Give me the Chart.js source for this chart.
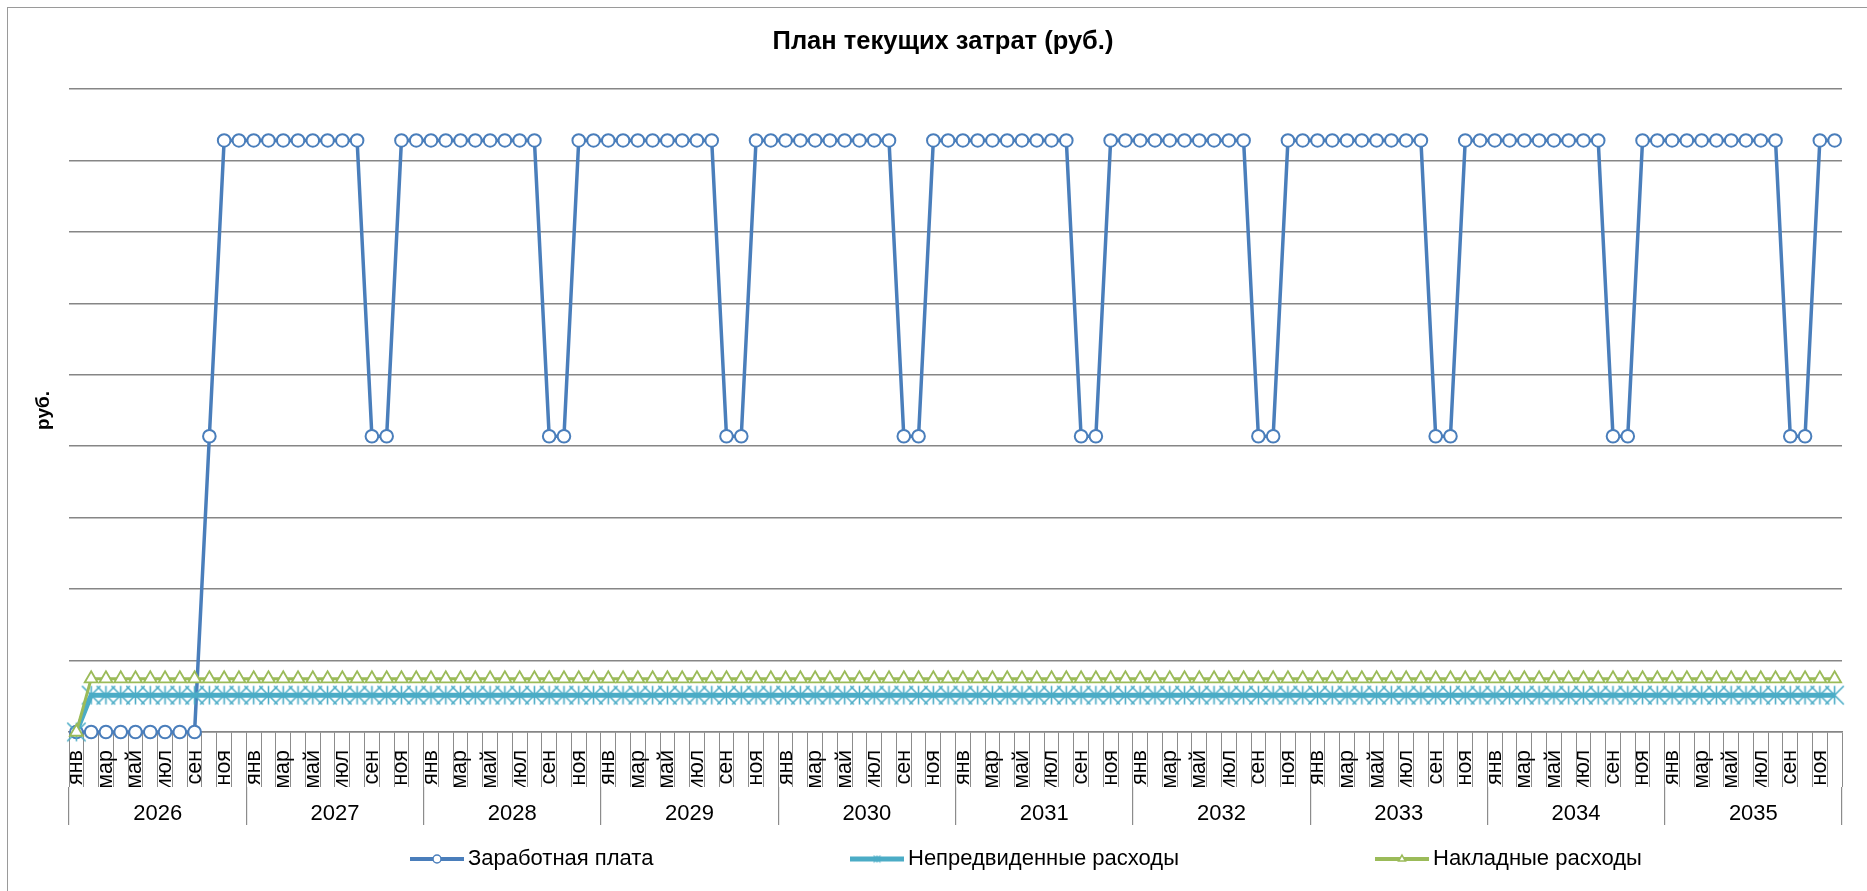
<!DOCTYPE html>
<html>
<head>
<meta charset="utf-8">
<title>План текущих затрат</title>
<script src="https://cdn.jsdelivr.net/npm/chart.js@4.4.1/dist/chart.umd.min.js"></script>
<style>
    html, body { margin: 0; padding: 0; background: #fff; overflow: hidden; }
    #wrap { width: 1867px; height: 891px; position: relative; }
</style>
</head>
<body>
<div id="wrap"><canvas id="plan-chart"></canvas></div>
<script>
var years = ['2026', '2027', '2028', '2029', '2030', '2031', '2032', '2033', '2034', '2035'];
var months = ['янв', 'фев', 'мар', 'апр', 'май', 'июн', 'июл', 'авг', 'сен', 'окт', 'ноя', 'дек'];

// Заработная плата по годам (руб.)
var zp2026 = [0, 0, 0, 0, 0, 0, 0, 0, 0, 207000, 414000, 414000];
var zp2027 = [414000, 414000, 414000, 414000, 414000, 414000, 414000, 414000, 207000, 207000, 414000, 414000];
var zp2028 = [414000, 414000, 414000, 414000, 414000, 414000, 414000, 414000, 207000, 207000, 414000, 414000];
var zp2029 = [414000, 414000, 414000, 414000, 414000, 414000, 414000, 414000, 207000, 207000, 414000, 414000];
var zp2030 = [414000, 414000, 414000, 414000, 414000, 414000, 414000, 414000, 207000, 207000, 414000, 414000];
var zp2031 = [414000, 414000, 414000, 414000, 414000, 414000, 414000, 414000, 207000, 207000, 414000, 414000];
var zp2032 = [414000, 414000, 414000, 414000, 414000, 414000, 414000, 414000, 207000, 207000, 414000, 414000];
var zp2033 = [414000, 414000, 414000, 414000, 414000, 414000, 414000, 414000, 207000, 207000, 414000, 414000];
var zp2034 = [414000, 414000, 414000, 414000, 414000, 414000, 414000, 414000, 207000, 207000, 414000, 414000];
var zp2035 = [414000, 414000, 414000, 414000, 414000, 414000, 414000, 414000, 207000, 207000, 414000, 414000];

// Непредвиденные расходы (руб.)
var nepredvid = [
    0, 25800, 25800, 25800, 25800, 25800, 25800, 25800, 25800, 25800, 25800, 25800,
    25800, 25800, 25800, 25800, 25800, 25800, 25800, 25800, 25800, 25800, 25800, 25800,
    25800, 25800, 25800, 25800, 25800, 25800, 25800, 25800, 25800, 25800, 25800, 25800,
    25800, 25800, 25800, 25800, 25800, 25800, 25800, 25800, 25800, 25800, 25800, 25800,
    25800, 25800, 25800, 25800, 25800, 25800, 25800, 25800, 25800, 25800, 25800, 25800,
    25800, 25800, 25800, 25800, 25800, 25800, 25800, 25800, 25800, 25800, 25800, 25800,
    25800, 25800, 25800, 25800, 25800, 25800, 25800, 25800, 25800, 25800, 25800, 25800,
    25800, 25800, 25800, 25800, 25800, 25800, 25800, 25800, 25800, 25800, 25800, 25800,
    25800, 25800, 25800, 25800, 25800, 25800, 25800, 25800, 25800, 25800, 25800, 25800,
    25800, 25800, 25800, 25800, 25800, 25800, 25800, 25800, 25800, 25800, 25800, 25800
];

// Накладные расходы (руб.)
var nakladnye = [
    0, 37300, 37300, 37300, 37300, 37300, 37300, 37300, 37300, 37300, 37300, 37300,
    37300, 37300, 37300, 37300, 37300, 37300, 37300, 37300, 37300, 37300, 37300, 37300,
    37300, 37300, 37300, 37300, 37300, 37300, 37300, 37300, 37300, 37300, 37300, 37300,
    37300, 37300, 37300, 37300, 37300, 37300, 37300, 37300, 37300, 37300, 37300, 37300,
    37300, 37300, 37300, 37300, 37300, 37300, 37300, 37300, 37300, 37300, 37300, 37300,
    37300, 37300, 37300, 37300, 37300, 37300, 37300, 37300, 37300, 37300, 37300, 37300,
    37300, 37300, 37300, 37300, 37300, 37300, 37300, 37300, 37300, 37300, 37300, 37300,
    37300, 37300, 37300, 37300, 37300, 37300, 37300, 37300, 37300, 37300, 37300, 37300,
    37300, 37300, 37300, 37300, 37300, 37300, 37300, 37300, 37300, 37300, 37300, 37300,
    37300, 37300, 37300, 37300, 37300, 37300, 37300, 37300, 37300, 37300, 37300, 37300
];

var yMax = 450000;
var yStep = 50000;

var zarplata = [].concat(zp2026, zp2027, zp2028, zp2029, zp2030, zp2031, zp2032, zp2033, zp2034, zp2035);
var categories = [];
years.forEach(function (y) {
    months.forEach(function (m) { categories.push(m + ' ' + y); });
});

var FONT = "'Liberation Sans', Arial, sans-serif";
Chart.defaults.font.family = FONT;
Chart.defaults.color = '#000';

// маркер "звезда" как в Excel: крест + вертикальная черта
function makeStar(size, color, lw) {
    var c = document.createElement('canvas');
    c.width = size;
    c.height = size;
    var g = c.getContext('2d');
    var p = lw / 2 + 0.5;
    g.strokeStyle = color;
    g.lineWidth = lw;
    g.beginPath();
    g.moveTo(p, p); g.lineTo(size - p, size - p);
    g.moveTo(size - p, p); g.lineTo(p, size - p);
    g.moveTo(size / 2, p); g.lineTo(size / 2, size - p);
    g.stroke();
    return c;
}
var starBig = makeStar(21, '#4bacc6', 1.6);
var starSmall = makeStar(9, '#4bacc6', 1.2);

// фон и рамка как у диаграммы Excel
var framePlugin = {
    id: 'frame',
    beforeDraw: function (chart) {
        var ctx = chart.ctx;
        ctx.save();
        ctx.fillStyle = '#fff';
        ctx.fillRect(0, 0, chart.width, chart.height);
        ctx.strokeStyle = '#9a9a9a';
        ctx.lineWidth = 1;
        ctx.strokeRect(7.5, 7.5, chart.width + 20, chart.height + 20);
        ctx.restore();
    }
};

// легенда внизу, с широкими промежутками
var legendStarts = [410, 850, 1375];
var legendPlugin = {
    id: 'wideLegend',
    afterDraw: function (chart) {
        var ctx = chart.ctx;
        var y = 859;
        ctx.save();
        ctx.font = '22px ' + FONT;
        ctx.textBaseline = 'middle';
        chart.data.datasets.forEach(function (ds, i) {
            var x = legendStarts[i];
            ctx.strokeStyle = ds.borderColor;
            ctx.lineWidth = ds.legendLine;
            ctx.beginPath();
            ctx.moveTo(x, y);
            ctx.lineTo(x + 54, y);
            ctx.stroke();
            if (ds.legendMarker) {
                ctx.drawImage(ds.legendMarker, x + 27 - ds.legendMarker.width / 2, y - ds.legendMarker.height / 2);
            } else {
                ctx.fillStyle = '#fff';
                ctx.strokeStyle = ds.pointBorderColor;
                ctx.lineWidth = 1.5;
                Chart.helpers.drawPoint(ctx, { pointStyle: ds.pointStyle, radius: 4, rotation: 0, borderWidth: 1.5 }, x + 27, y);
            }
            ctx.fillStyle = '#000';
            ctx.textAlign = 'left';
            ctx.fillText(ds.label, x + 58, y);
        });
        ctx.restore();
    }
};

var ctx = document.getElementById('plan-chart').getContext('2d');
var myChart = new Chart(ctx, {
    type: 'line',
    data: {
        labels: categories,
        datasets: [
            {
                label: 'Заработная плата',
                data: zarplata,
                borderColor: '#4a7ebb',
                borderWidth: 3.5,
                pointStyle: 'circle',
                pointRadius: 6.3,
                pointBorderWidth: 2,
                pointBorderColor: '#4a7ebb',
                pointBackgroundColor: '#fff',
                legendLine: 4,
                clip: false,
                order: 3
            },
            {
                label: 'Непредвиденные расходы',
                data: nepredvid,
                borderColor: '#4bacc6',
                borderWidth: 5,
                pointStyle: starBig,
                pointRadius: 10,
                pointBorderColor: '#4bacc6',
                pointBackgroundColor: '#4bacc6',
                legendLine: 5,
                legendMarker: starSmall,
                clip: false,
                order: 2
            },
            {
                label: 'Накладные расходы',
                data: nakladnye,
                borderColor: '#9bbb59',
                borderWidth: 3,
                pointStyle: 'triangle',
                pointRadius: 7.5,
                pointBorderWidth: 1.8,
                pointBorderColor: '#9bbb59',
                pointBackgroundColor: '#fff',
                legendLine: 4,
                clip: false,
                order: 1
            }
        ]
    },
    options: {
        responsive: true,
        maintainAspectRatio: false,
        animation: false,
        layout: { padding: { left: 44, right: 25, top: 0, bottom: 66 } },
        plugins: {
            legend: { display: false },
            tooltip: { enabled: false },
            title: {
                display: true,
                text: 'План текущих затрат (руб.)',
                color: '#000',
                font: { size: 25.5, weight: 'bold' },
                padding: { top: 26.7, bottom: 31.7 }
            }
        },
        scales: {
            x: {
                type: 'category',
                offset: true,
                grid: { offset: true, drawOnChartArea: false, drawTicks: true, tickLength: 55, color: '#8c8c8c', lineWidth: 1 },
                border: { display: true, color: '#868686', width: 1.5 },
                ticks: {
                    autoSkip: false,
                    minRotation: 90,
                    maxRotation: 90,
                    padding: -37,
                    color: '#000',
                    font: { size: 21.5 },
                    callback: function (value, index) {
                        return index % 2 === 0 ? months[index % 12] : '';
                    }
                },
                afterFit: function (scale) { scale.height = 55; }
            },
            x2: {
                type: 'category',
                labels: years,
                position: 'bottom',
                offset: true,
                weight: 1,
                grid: { offset: true, drawOnChartArea: false, drawTicks: true, tickLength: 38, color: '#8c8c8c', lineWidth: 1.2 },
                border: { display: false },
                ticks: { autoSkip: false, maxRotation: 0, padding: -24, color: '#000', font: { size: 22 } },
                afterFit: function (scale) { scale.height = 38; }
            },
            y: {
                min: 0,
                max: yMax,
                ticks: { display: false, stepSize: yStep },
                grid: { color: '#868686', lineWidth: 1.5, drawTicks: false },
                border: { display: false },
                title: {
                    display: true,
                    text: 'руб.',
                    color: '#000',
                    font: { size: 19, weight: 'bold' },
                    padding: { top: -11.4, bottom: 13.6 }
                }
            }
        }
    },
    plugins: [framePlugin, legendPlugin]
});
</script>
</body>
</html>
